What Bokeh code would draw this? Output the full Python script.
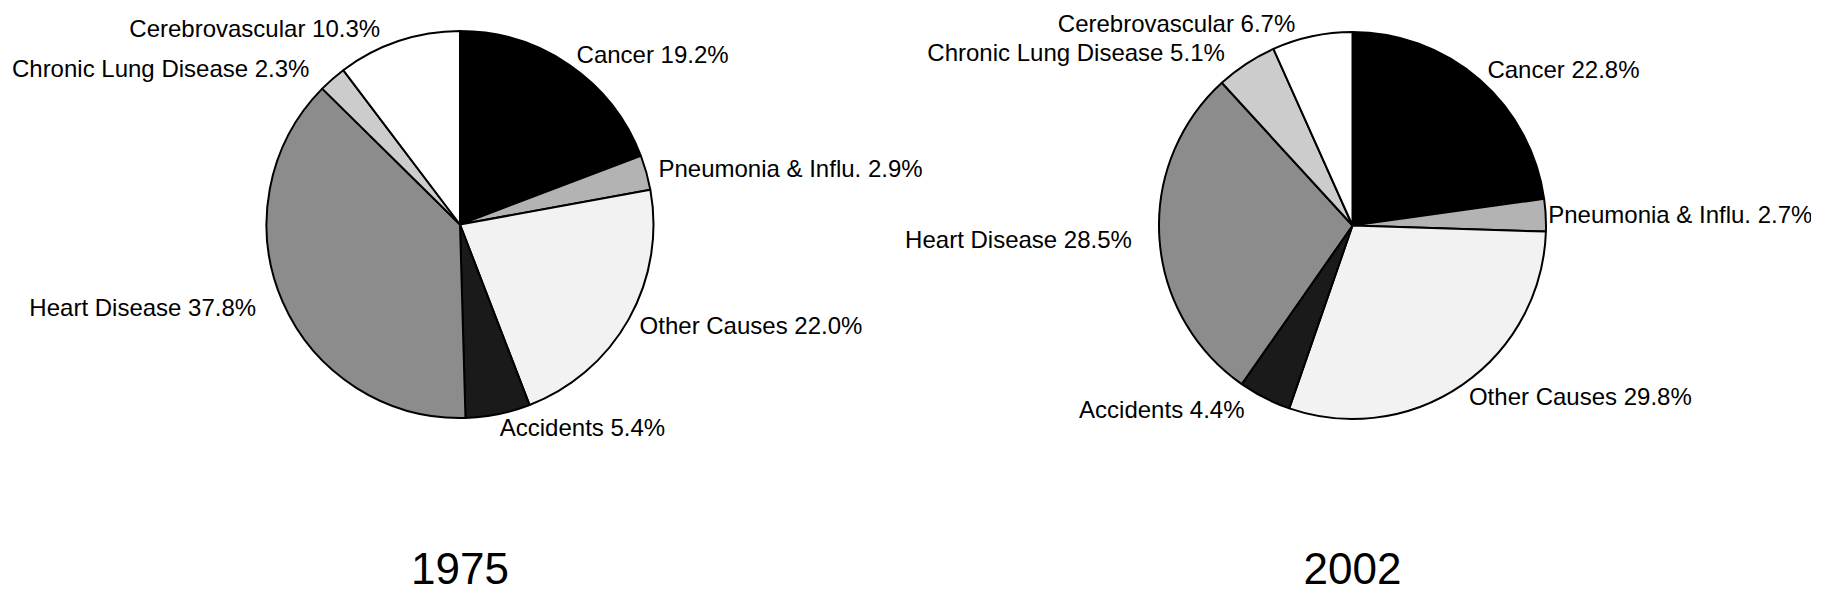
import numpy as np
from bokeh.plotting import figure
from bokeh.models import Range1d, ColumnDataSource
from bokeh.core.properties import value
from bokeh.embed import file_html
from bokeh.resources import INLINE

# ---- data ----
causes = ["Cancer", "Pneumonia & Influ.", "Other Causes", "Accidents",
          "Heart Disease", "Chronic Lung Disease", "Cerebrovascular"]
pct_1975 = [19.2, 2.9, 22.0, 5.4, 37.8, 2.3, 10.3]
pct_2002 = [22.8, 2.7, 29.8, 4.4, 28.5, 5.1, 6.7]
years = ["1975", "2002"]
colors = ["#000000", "#b3b3b3", "#f2f2f2", "#1a1a1a", "#8c8c8c", "#cccccc", "#ffffff"]

PAGE_H = 611
W, H = 1811, 595
p = figure(width=W, height=H, output_backend="svg", toolbar_location=None,
           x_range=Range1d(0, W), y_range=Range1d(PAGE_H - H, PAGE_H),
           min_border=0, min_border_left=0, min_border_right=0,
           min_border_top=0, min_border_bottom=0)
p.axis.visible = False
p.grid.visible = False
p.outline_line_color = None
p.background_fill_color = "white"

FONT = "Liberation Sans"
R = 193.5
LAB = 1.07
centers = [(459.5, PAGE_H - 224), (1352, PAGE_H - 225)]

for (cx, cy), vals, yr in zip(centers, [pct_1975, pct_2002], years):
    v = np.array(vals, dtype=float)
    frac = v / v.sum()
    cum = np.concatenate([[0], np.cumsum(frac)]) * 2 * np.pi
    start = np.pi / 2 - cum[:-1]
    end = np.pi / 2 - cum[1:]
    src = ColumnDataSource(dict(start=start, end=end, color=colors))
    p.wedge(x=cx, y=cy, radius=R, start_angle="start", end_angle="end",
            direction="clock", fill_color="color", line_color="black",
            line_width=2, source=src)
    mid = (cum[:-1] + cum[1:]) / 2
    lx = cx + LAB * R * np.sin(mid)
    ly = cy + LAB * R * np.cos(mid)
    right = np.sin(mid) >= 0
    lx = np.where(right, lx - 1, lx - 14)
    # keep the far-right label inside the canvas
    lx = np.where(right & (lx > 1550), lx - 10, lx)
    labels = [f"{c} {val:.1f}%" for c, val in zip(causes, vals)]
    for side, align in [(True, "left"), (False, "right")]:
        m = right == side
        p.text(x=lx[m], y=ly[m], text=[l for l, k in zip(labels, m) if k],
               text_align=align, text_baseline="middle",
               text_font=value(FONT), text_font_size="24px", text_color="black")
    p.text(x=[cx], y=[PAGE_H - 568], text=[yr], text_align="center",
           text_baseline="middle", text_font=value(FONT),
           text_font_size="44px", text_color="black")

open("out.html", "w").write(file_html(p, INLINE))
